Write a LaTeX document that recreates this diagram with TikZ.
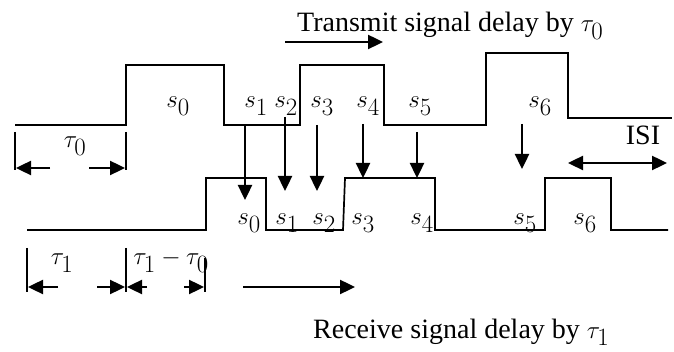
\documentclass[tikz,border=0pt]{standalone}
\usepackage{fontspec}
\setmainfont{Liberation Serif}
\usetikzlibrary{arrows.meta}
\begin{document}
\begin{tikzpicture}[x=1pt, y=-1pt,
  font=\fontsize{28}{34}\selectfont,
  sig/.style={line width=1.7pt},
  tick/.style={line width=1.5pt},
  arr/.style={line width=2.4pt, -{Triangle[length=15pt,width=14pt]}},
  lbl/.style={anchor=base, inner sep=0pt},
  sym/.style={lbl, font=\fontsize{34}{40}\selectfont}
]
  \useasboundingbox (0,0) rectangle (674,352);

  % transmit and receive waveforms
  \draw[sig] (15,125) -- (126,125) -- (126,65) -- (224,65) -- (224,125)
    -- (300,125) -- (300,65) -- (384,65) -- (384,125) -- (486,125)
    -- (486,53) -- (568,53) -- (568,118) -- (672,118);
  \draw[sig] (27,230) -- (206,230) -- (206,178) -- (266,178) -- (266,230)
    -- (343,230) -- (345,178) -- (435,178) -- (435,230) -- (545,230)
    -- (545,178) -- (611,178) -- (611,230) -- (668,230);

  % symbol labels
  \node[sym] (tx0) at (178,108) {$s_0$};
  \node[sym] (tx1) at (256,108) {$s_1$};
  \node[sym] (tx2) at (286,108) {$s_2$};
  \node[sym] (tx3) at (322,108) {$s_3$};
  \node[sym] (tx4) at (368,108) {$s_4$};
  \node[sym] (tx5) at (420,108) {$s_5$};
  \node[sym] (tx6) at (540,108) {$s_6$};

  \node[sym] (rx0) at (249,225) {$s_0$};
  \node[sym] (rx1) at (287,225) {$s_1$};
  \node[sym] (rx2) at (324,225) {$s_2$};
  \node[sym] (rx3) at (363,225) {$s_3$};
  \node[sym] (rx4) at (422,225) {$s_4$};
  \node[sym] (rx5) at (525,225) {$s_5$};
  \node[sym] (rx6) at (585,225) {$s_6$};

  % delay arrows
  \foreach \i/\x/\ya/\yb in {1/245/125/200, 2/285/117/191, 3/317/125/191,
                             4/363/124/178, 5/417/132/178, 6/522/124/169}{
    \coordinate (d\i a) at (\x,\ya);
    \coordinate (d\i b) at (\x,\yb);
    \draw[arr] (d\i a) -- (d\i b);
  }

  % tau_0 span
  \coordinate (t0l) at (15,132);   \coordinate (t0r) at (126,132);
  \draw[tick] (t0l) -- ++(0,38);
  \draw[tick] (t0r) -- ++(0,38);
  \draw[arr] (50,168) -- (16,168);
  \draw[arr] (89,168) -- (125,168);
  \node[sym] (tau0) at (75,148) {$\tau_0$};

  % tau_1 span
  \draw[tick] (27,248) -- (27,292);
  \draw[tick] (126,248) -- (126,292);
  \draw[tick] (205,258) -- (205,292);
  \draw[arr] (58,287) -- (28,287);
  \draw[arr] (97,287) -- (125,287);
  \draw[arr] (147,287) -- (127,287);
  \draw[arr] (184,287) -- (204,287);
  \node[sym] (tau1) at (62,265) {$\tau_1$};
  \node[sym] (taud) at (171,265) {$\tau_1-\tau_0$};

  % ISI
  \draw[line width=2.4pt, {Triangle[length=15pt,width=14pt]}-{Triangle[length=15pt,width=14pt]}]
    (568,163) -- (667,163);
  \node[lbl] (isi) at (643,145) {ISI};

  % titles
  \node[lbl, anchor=base west] (txt) at (297,32)
    {Transmit signal delay by {\fontsize{34}{40}\selectfont$\tau_0$}};
  \draw[arr] (285,42) -- (383,42);
  \node[lbl, anchor=base west] (rxt) at (313,338)
    {Receive signal delay by {\fontsize{34}{40}\selectfont$\tau_1$}};
  \draw[arr] (243,287) -- (355,287);
\end{tikzpicture}
\end{document}
